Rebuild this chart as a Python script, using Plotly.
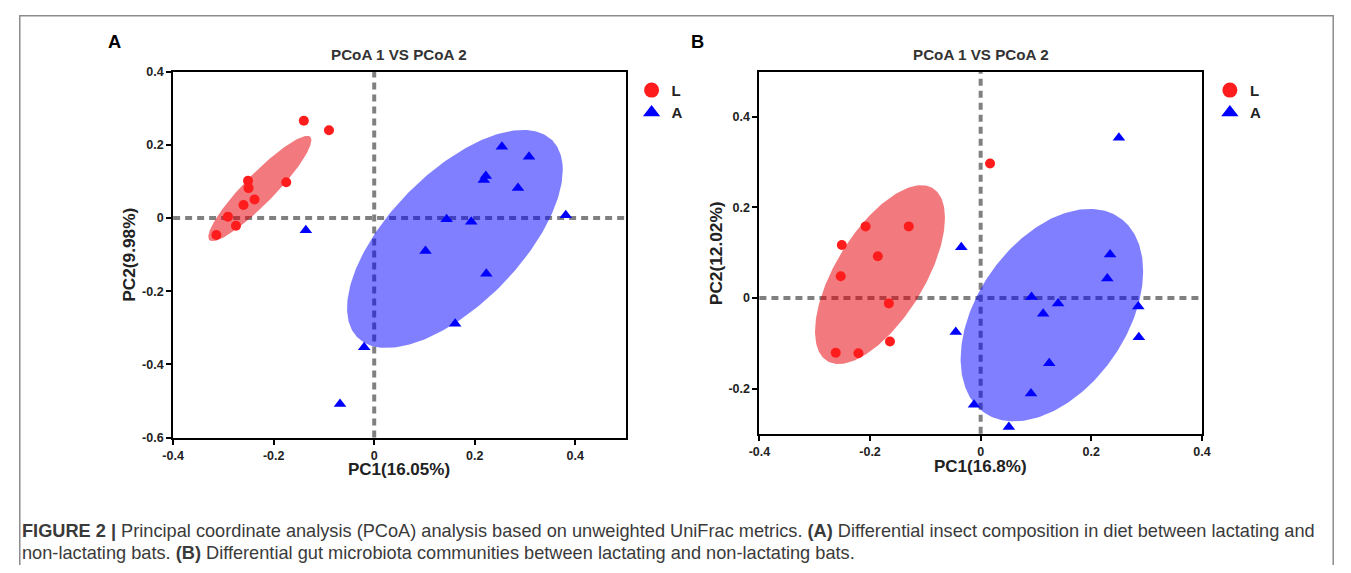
import numpy as np
import plotly.graph_objects as go

# ---------------- Data ----------------
# Panel A
a_L_x = [-0.140, -0.090, -0.175, -0.251, -0.250, -0.238, -0.260, -0.291, -0.275, -0.314]
a_L_y = [0.266, 0.240, 0.098, 0.102, 0.082, 0.051, 0.036, 0.004, -0.021, -0.046]
a_A_x = [0.254, 0.308, 0.222, 0.218, 0.286, 0.144, 0.193, 0.381, 0.102, 0.223, 0.161, -0.020, -0.068, -0.136]
a_A_y = [0.195, 0.168, 0.115, 0.104, 0.082, -0.003, -0.010, 0.008, -0.090, -0.152, -0.289, -0.353, -0.508, -0.033]

# Panel B
b_L_x = [-0.208, -0.130, -0.251, -0.186, -0.253, -0.166, -0.164, -0.262, -0.221, 0.017]
b_L_y = [0.158, 0.158, 0.117, 0.092, 0.048, -0.012, -0.096, -0.121, -0.122, 0.297]
b_A_x = [0.250, -0.035, 0.234, 0.229, 0.092, 0.140, 0.113, 0.285, -0.045, 0.286, 0.124, 0.091, -0.012, 0.051]
b_A_y = [0.354, 0.112, 0.096, 0.043, 0.002, -0.012, -0.035, -0.019, -0.075, -0.087, -0.144, -0.211, -0.236, -0.285]

# Ellipses: centre x, centre y, half-width, half-height, phase (deg)
ell_a_L = (-0.2275, 0.081, 0.1025, 0.144, 23.5)
ell_a_A = (0.1605, -0.057, 0.2145, 0.298, 50.7)
ell_b_L = (-0.182, 0.0515, 0.1175, 0.1975, 50.6)
ell_b_A = (0.1288, -0.0379, 0.165, 0.2346, 65.6)

x_ticks = [-0.4, -0.2, 0, 0.2, 0.4]
x_ticktext = ["-0.4", "-0.2", "0", "0.2", "0.4"]
a_y_ticks = [-0.6, -0.4, -0.2, 0, 0.2, 0.4]
a_y_ticktext = ["-0.6", "-0.4", "-0.2", "0", "0.2", "0.4"]
b_y_ticks = [-0.2, 0, 0.2, 0.4]
b_y_ticktext = ["-0.2", "0", "0.2", "0.4"]

group_names = ["L", "A"]
title_text = "PCoA 1 VS PCoA 2"
a_xlabel, a_ylabel = "PC1(16.05%)", "PC2(9.98%)"
b_xlabel, b_ylabel = "PC1(16.8%)", "PC2(12.02%)"
caption1 = ("<b>FIGURE 2</b> <b>|</b> Principal coordinate analysis (PCoA) analysis based on unweighted UniFrac metrics. "
            "<b>(A)</b> Differential insect composition in diet between lactating and")
caption2 = ("non-lactating bats. <b>(B)</b> Differential gut microbiota communities between lactating and non-lactating bats.")

# ---------------- Styling ----------------
FONT = "Liberation Sans, Arial, Helvetica, sans-serif"
RED = "#FF1C1C"
BLUE = "#0000FF"
RED_FILL = "rgba(230,0,8,0.52)"
BLUE_FILL = "rgba(0,0,255,0.5)"

OFF = 8
W, H = 1351 - 2 * OFF, 573 - 2 * OFF
# measured placement of the figure in the final picture (scale / offset)
SX, OX = 0.9862, 9.8
SY, OY = 0.973, 7.5


def PX(x):
    return ((x - OX) / SX - OFF) / W


def PY(y):
    return 1 - ((y - OY) / SY - OFF) / H


def ellipse(params):
    cx, cy, ax, ay, ph = params
    t = np.linspace(0, 2 * np.pi, 241)
    p = np.deg2rad(ph)
    return cx + ax * np.cos(t), cy + ay * np.cos(t + p)


fig = go.Figure()

for (xa, ya, ellL, ellA, Lx, Ly, Ax, Ay) in [
    ("x", "y", ell_a_L, ell_a_A, a_L_x, a_L_y, a_A_x, a_A_y),
    ("x2", "y2", ell_b_L, ell_b_A, b_L_x, b_L_y, b_A_x, b_A_y),
]:
    ex, ey = ellipse(ellL)
    fig.add_trace(go.Scatter(x=ex, y=ey, mode="lines", fill="toself", fillcolor=RED_FILL,
                             line=dict(width=0), hoverinfo="skip", showlegend=False, xaxis=xa, yaxis=ya))
    ex, ey = ellipse(ellA)
    fig.add_trace(go.Scatter(x=ex, y=ey, mode="lines", fill="toself", fillcolor=BLUE_FILL,
                             line=dict(width=0), hoverinfo="skip", showlegend=False, xaxis=xa, yaxis=ya))
    fig.add_trace(go.Scatter(x=Lx, y=Ly, mode="markers", name=group_names[0],
                             marker=dict(symbol="circle", size=10, color=RED, line=dict(width=0)),
                             showlegend=False, xaxis=xa, yaxis=ya))
    fig.add_trace(go.Scatter(x=Ax, y=Ay, mode="markers", name=group_names[1],
                             marker=dict(symbol="triangle-up", size=11, color=BLUE, line=dict(width=0)),
                             showlegend=False, xaxis=xa, yaxis=ya))

for leg, xa, ya in [("legend", "x", "y"), ("legend2", "x2", "y2")]:
    fig.add_trace(go.Scatter(x=[None], y=[None], mode="markers", name=group_names[0],
                             marker=dict(symbol="circle", size=15, color=RED),
                             legend=leg, legendgroup=leg + "L", xaxis=xa, yaxis=ya))
    fig.add_trace(go.Scatter(x=[None], y=[None], mode="markers", name=group_names[1],
                             marker=dict(symbol="triangle-up", size=15, color=BLUE),
                             legend=leg, legendgroup=leg + "A", xaxis=xa, yaxis=ya))

tickfont = dict(family=FONT, size=12.5, color="#222222", weight="bold")


def xaxis(dom, rng):
    return dict(domain=dom, range=rng, tickvals=x_ticks, ticktext=x_ticktext,
                showline=True, linecolor="black", linewidth=2, mirror=True,
                ticks="outside", ticklen=5, tickwidth=2, tickcolor="black",
                showgrid=False, zeroline=False, tickfont=tickfont, fixedrange=True)


def yaxis(dom, rng, tv, tt, anchor):
    return dict(domain=dom, range=rng, tickvals=tv, ticktext=tt, anchor=anchor,
                showline=True, linecolor="black", linewidth=2, mirror=True,
                ticks="outside", ticklen=5, tickwidth=2, tickcolor="black",
                showgrid=False, zeroline=False, tickfont=tickfont, fixedrange=True)


axA_x = [PX(172), PX(625)]
axA_y = [PY(437), PY(72)]
axB_x = [PX(759), PX(1202)]
axB_y = [PY(433.3), PY(71.7)]

shapes = []
for xr, yr in [("x", "y"), ("x2", "y2")]:
    dash = dict(color="#808080", width=4, dash="7px,5px")
    shapes.append(dict(type="line", xref=xr, yref=yr + " domain", x0=0, x1=0, y0=0, y1=1,
                       line=dash, layer="below"))
    shapes.append(dict(type="line", xref=xr + " domain", yref=yr, x0=0, x1=1, y0=0, y1=0,
                       line=dash, layer="below"))
# outer frame (as close to the edge as the drawing area allows)
shapes.append(dict(type="rect", xref="paper", yref="paper", x0=0.8 / W, x1=1 - 0.8 / W,
                   y0=-0.2, y1=1 - 0.8 / H, line=dict(color="#8c8c8c", width=1.5)))


def ann(text, px, py, size, color, xanchor="center", angle=0, bold=True):
    return dict(text=text, x=PX(px), y=PY(py), xref="paper", yref="paper", showarrow=False,
                xanchor=xanchor, yanchor="middle", textangle=angle,
                font=dict(family=FONT, size=size, color=color, weight="bold" if bold else "normal"))


annotations = [
    ann("A", 113, 42, 18.3, "black"),
    ann("B", 697, 42, 18.3, "black"),
    ann(title_text, (172 + 625) / 2, 55, 15.2, "#333333"),
    ann(title_text, (759 + 1202) / 2, 55, 15.2, "#333333"),
    ann(a_xlabel, (172 + 625) / 2, 469, 17, "#222222"),
    ann(b_xlabel, (759 + 1202) / 2, 466, 17, "#222222"),
    ann(a_ylabel, 127, (72 + 437) / 2, 17.3, "#222222", angle=-90),
    ann(b_ylabel, 715, (72 + 433) / 2, 17.3, "#222222", angle=-90),
    ann(caption1, 19, 530, 18.2, "#3a3a3a", xanchor="left", bold=False),
    ann(caption2, 19, 552, 18.2, "#3a3a3a", xanchor="left", bold=False),
]

legfont = dict(family=FONT, size=15, color="#222222", weight="bold")
fig.update_layout(
    width=W, height=H, margin=dict(l=0, r=0, t=0, b=0),
    paper_bgcolor="white", plot_bgcolor="white",
    xaxis=xaxis(axA_x, [-0.4, 0.5]),
    yaxis=yaxis(axA_y, [-0.6, 0.4], a_y_ticks, a_y_ticktext, "x"),
    xaxis2=xaxis(axB_x, [-0.4, 0.4]) | dict(anchor="y2"),
    yaxis2=yaxis(axB_y, [-0.3, 0.5], b_y_ticks, b_y_ticktext, "x2"),
    legend=dict(x=PX(631), y=PY(74), xanchor="left", yanchor="top", font=legfont,
                bgcolor="rgba(0,0,0,0)", tracegroupgap=0, itemwidth=30),
    legend2=dict(x=PX(1210), y=PY(74), xanchor="left", yanchor="top", font=legfont,
                 bgcolor="rgba(0,0,0,0)", tracegroupgap=0, itemwidth=30),
    shapes=shapes, annotations=annotations, showlegend=True,
)

fig.write_html("out.html", config=dict(displayModeBar=False))
